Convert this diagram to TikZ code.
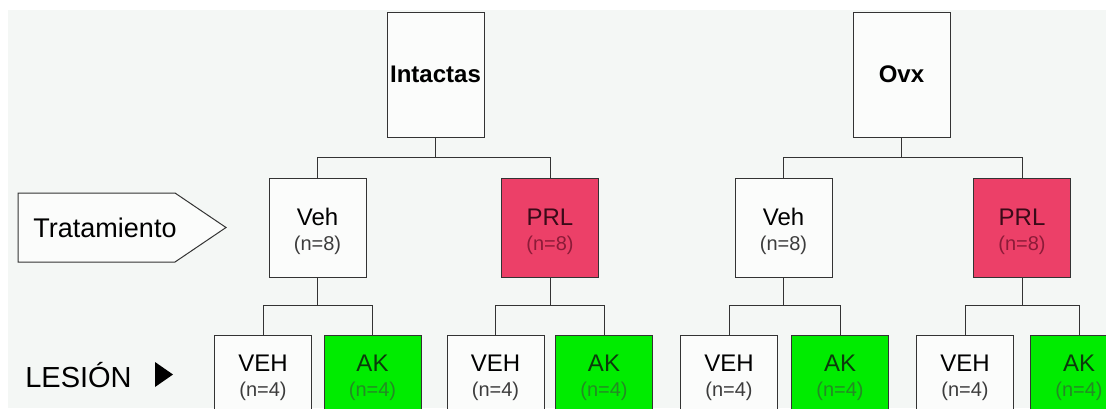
\documentclass[tikz,border=0pt]{standalone}
\usepackage{fontspec}
\setmainfont{Liberation Sans}
\usepackage{tikz}
\usetikzlibrary{positioning}
\definecolor{fondo}{HTML}{F4F7F5}
\definecolor{linea}{HTML}{333333}
\definecolor{rojo}{HTML}{EC4068}
\definecolor{verde}{HTML}{00EC00}
\definecolor{txt_prl}{HTML}{3A0A18}
\definecolor{sub_prl}{HTML}{8C1B38}
\definecolor{txt_ak}{HTML}{0C3A0C}
\definecolor{sub_ak}{HTML}{248A24}
\definecolor{sub_w}{HTML}{3C3C3C}
\newcommand{\nn}[1]{{\fontsize{20}{25}\selectfont\color{\subcol}(n=#1)}}
\newcommand{\grp}[2]{\rule{0pt}{25pt}#1\\\nn{#2}}
\tikzset{
  box/.style = {rectangle, draw=linea, line width=1pt, align=center, inner sep=0pt, minimum width=97pt, font=\fontsize{24}{25}\selectfont},
  box_top/.style = {box, fill=white!60!fondo, minimum height=125pt, font=\fontsize{24}{25}\selectfont\bfseries},
  box_w/.style = {box, fill=white!60!fondo, text=black, execute at begin node=\def\subcol{sub_w}},
  box_prl/.style = {box, fill=rojo, text=txt_prl, execute at begin node=\def\subcol{sub_prl}},
  box_ak/.style = {box, fill=verde, text=txt_ak, execute at begin node=\def\subcol{sub_ak}},
  mid/.style = {minimum height=99pt},
  low/.style = {minimum height=77pt},
  conn/.style = {draw=linea, line width=1pt}
}
\begin{document}
\begin{tikzpicture}[x=1pt, y=-1pt]
    \useasboundingbox (0,0) rectangle (1106,408);
    \clip (0,0) rectangle (1106,408);
    \fill[white] (0,0) rectangle (1106,408);
    \fill[fondo] (8,10) rectangle (1106,408);

    % labels on the left
    \draw[conn, fill=white!60!fondo] (18,193) -- (175,193) -- (226,227.5) -- (175,262) -- (18,262) -- cycle;
    \node[anchor=base, font=\fontsize{27}{30}\selectfont] (trat) at (105,237) {Tratamiento};
    \node[anchor=base, font=\fontsize{29}{30}\selectfont] (lesion) at (78.5,387) {LESIÓN};
    \fill (155,362) -- (173,374.5) -- (155,387) -- cycle;

    % groups
    \node[box_top] (int) at (435.5,74.5) {Intactas};
    \node[box_top] (ovx) at (901.5,74.5) {Ovx};

    \node[box_w, mid] (veh1) at (317.5,227.5) {\grp{Veh}{8}};
    \node[box_prl, mid] (prl1) at (550,227.5) {\grp{PRL}{8}};
    \node[box_w, mid] (veh2) at (783.5,227.5) {\grp{Veh}{8}};
    \node[box_prl, mid] (prl2) at (1022,227.5) {\grp{PRL}{8}};

    \node[box_w, low] (veh1_v) at (263,373.5) {\grp{VEH}{4}};
    \node[box_ak, low] (veh1_a) at (372.5,373.5) {\grp{AK}{4}};
    \node[box_w, low] (prl1_v) at (495.5,373.5) {\grp{VEH}{4}};
    \node[box_ak, low] (prl1_a) at (604,373.5) {\grp{AK}{4}};
    \node[box_w, low] (veh2_v) at (729,373.5) {\grp{VEH}{4}};
    \node[box_ak, low] (veh2_a) at (840,373.5) {\grp{AK}{4}};
    \node[box_w, low] (prl2_v) at (965,373.5) {\grp{VEH}{4}};
    \node[box_ak, low] (prl2_a) at (1079,373.5) {\grp{AK}{4}};

    % connectors
    \foreach \p/\c in {int/veh1, int/prl1, ovx/veh2, ovx/prl2}
        \draw[conn] (\p.south) -- ++(0,20) -| (\c.north);
    \foreach \p in {veh1, prl1, veh2, prl2}
        \foreach \c in {v, a}
            \draw[conn] (\p.south) -- ++(0,28) -| (\p_\c.north);
\end{tikzpicture}
\end{document}
